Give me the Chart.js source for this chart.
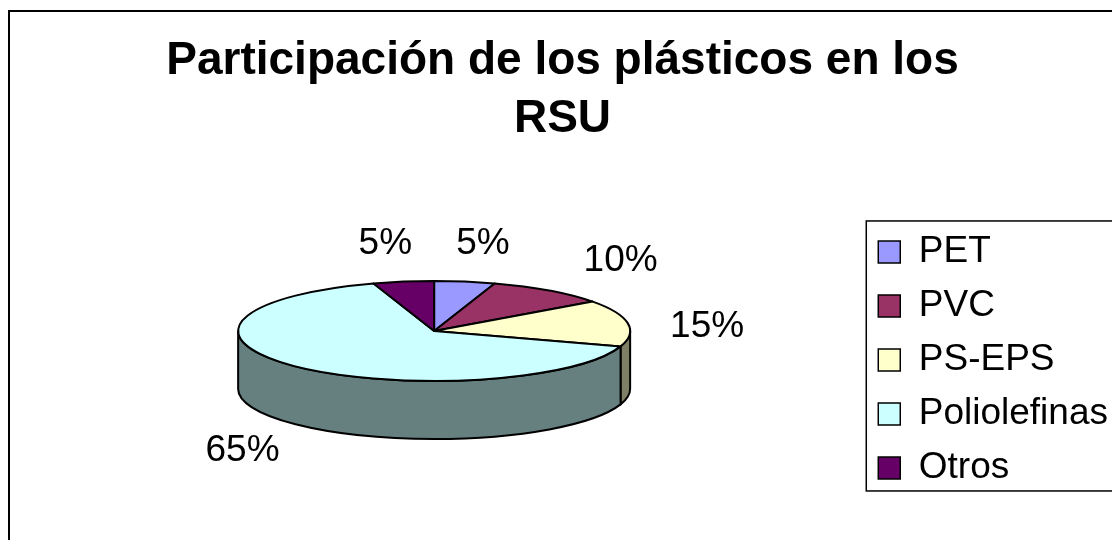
<!DOCTYPE html>
<html lang="es">
<head>
<meta charset="utf-8">
<title>Participación de los plásticos en los RSU</title>
<script src="https://cdn.jsdelivr.net/npm/chart.js@4.4.1/dist/chart.umd.min.js"></script>
<style>
  html, body { margin: 0; padding: 0; background: #fff; overflow: hidden; }
  #wrap { width: 1118px; height: 560px; }
</style>
</head>
<body>
<div id="wrap"><canvas id="rsuChart" width="1118" height="560"></canvas></div>
<script>
const labels = ['PET', 'PVC', 'PS-EPS', 'Poliolefinas', 'Otros'];
const shares = [5, 10, 15, 65, 5];
const sliceColors = ['#9999FF', '#993366', '#FFFFCC', '#CCFFFF', '#660066'];
const titleLines = ['Participación de los plásticos en los', 'RSU'];

const FONT = '"Liberation Sans", Arial, sans-serif';
const TILT = 0.255;   // squash of the pie top seen from above
const DEPTH = 58;     // height of the pie wall

function darker(hex) {
  const n = parseInt(hex.slice(1), 16);
  const r = (n >> 16) & 255, g = (n >> 8) & 255, b = n & 255;
  return `rgb(${r >> 1},${g >> 1},${b >> 1})`;
}

// outer frame of the chart object
const frame = {
  id: 'frame',
  beforeDraw(chart) {
    const ctx = chart.ctx;
    ctx.save();
    ctx.fillStyle = '#fff';
    ctx.fillRect(0, 0, chart.width, chart.height);
    ctx.strokeStyle = '#000';
    ctx.lineWidth = 2;
    ctx.strokeRect(9, 11, chart.width + 40, chart.height + 40);
    ctx.restore();
  }
};

// draws the pie as a tilted disc with a wall, using the arc angles chart.js computed
const pie3d = {
  id: 'pie3d',
  beforeDatasetsDraw(chart) {
    const ctx = chart.ctx;
    const arcs = chart.getDatasetMeta(0).data;
    const ds = chart.data.datasets[0];
    if (!arcs.length) return false;
    const cx = arcs[0].x;
    const rx = arcs[0].outerRadius;
    const ry = rx * TILT;
    const cy = arcs[0].y - DEPTH / 2;

    ctx.save();
    ctx.lineWidth = 2;
    ctx.strokeStyle = '#000';
    ctx.lineJoin = 'round';

    // walls: only the front half (0..PI) faces the viewer
    arcs.forEach((arc, i) => {
      const s = Math.max(arc.startAngle, 0);
      const e = Math.min(arc.endAngle, Math.PI);
      if (e <= s) return;
      ctx.beginPath();
      ctx.ellipse(cx, cy, rx, ry, 0, s, e);
      ctx.lineTo(cx + rx * Math.cos(e), cy + DEPTH + ry * Math.sin(e));
      ctx.ellipse(cx, cy + DEPTH, rx, ry, 0, e, s, true);
      ctx.closePath();
      ctx.fillStyle = darker(ds.backgroundColor[i]);
      ctx.fill();
      ctx.stroke();
    });

    // top faces
    arcs.forEach((arc, i) => {
      ctx.beginPath();
      ctx.moveTo(cx, cy);
      ctx.ellipse(cx, cy, rx, ry, 0, arc.startAngle, arc.endAngle);
      ctx.closePath();
      ctx.fillStyle = ds.backgroundColor[i];
      ctx.fill();
      ctx.stroke();
    });

    // percentage labels outside the rim
    const total = ds.data.reduce((a, b) => a + b, 0);
    ctx.fillStyle = '#000';
    ctx.font = `37px ${FONT}`;
    ctx.textAlign = 'center';
    ctx.textBaseline = 'middle';
    arcs.forEach((arc, i) => {
      const mid = (arc.startAngle + arc.endAngle) / 2;
      const ux = Math.cos(mid), uy = Math.sin(mid);
      const text = Math.round(ds.data[i] / total * 100) + '%';
      const hw = ctx.measureText(text).width / 2;
      const ax = cx + rx * (1.2 - 0.12 * uy) * ux;
      const ay = cy + ry * 1.5 * uy + (uy > 0 ? DEPTH : DEPTH * Math.pow(ux, 4) / 6);
      const side = Math.sign(ux) * Math.min(1, Math.abs(ux) * 2);
      ctx.fillText(text, ax + hw * side, ay + 13 * uy);
    });

    ctx.restore();
    return false;
  }
};

// thin box around the legend
const legendFrame = {
  id: 'legendFrame',
  afterDraw(chart) {
    const boxes = chart.legend.legendHitBoxes;
    if (!boxes.length) return;
    const first = boxes[0], last = boxes[boxes.length - 1];
    const ctx = chart.ctx;
    ctx.save();
    ctx.strokeStyle = '#000';
    ctx.lineWidth = 1.5;
    const top = first.top - 12.5;
    const bottom = last.top + last.height + 4.5;
    ctx.strokeRect(first.left - 12, top, 400, bottom - top);
    ctx.restore();
  }
};

new Chart(document.getElementById('rsuChart'), {
  type: 'pie',
  data: {
    labels: labels,
    datasets: [{
      data: shares,
      backgroundColor: sliceColors,
      borderColor: '#000',
      borderWidth: 1.5,
      radius: 196
    }]
  },
  options: {
    responsive: false,
    animation: false,
    events: [],
    layout: { padding: { left: 7, right: 0, top: 0, bottom: 6 } },
    plugins: {
      title: {
        display: true,
        text: titleLines,
        color: '#000',
        font: { family: FONT, size: 46, weight: 'bold', lineHeight: 1.26 },
        padding: { top: 32, bottom: 18 }
      },
      legend: {
        position: 'right',
        align: 'center',
        fullSize: false,
        labels: {
          color: '#000',
          font: { family: FONT, size: 37 },
          boxWidth: 22,
          boxHeight: 22,
          padding: 17
        }
      },
      tooltip: { enabled: false }
    }
  },
  plugins: [frame, pie3d, legendFrame]
});
</script>
</body>
</html>
